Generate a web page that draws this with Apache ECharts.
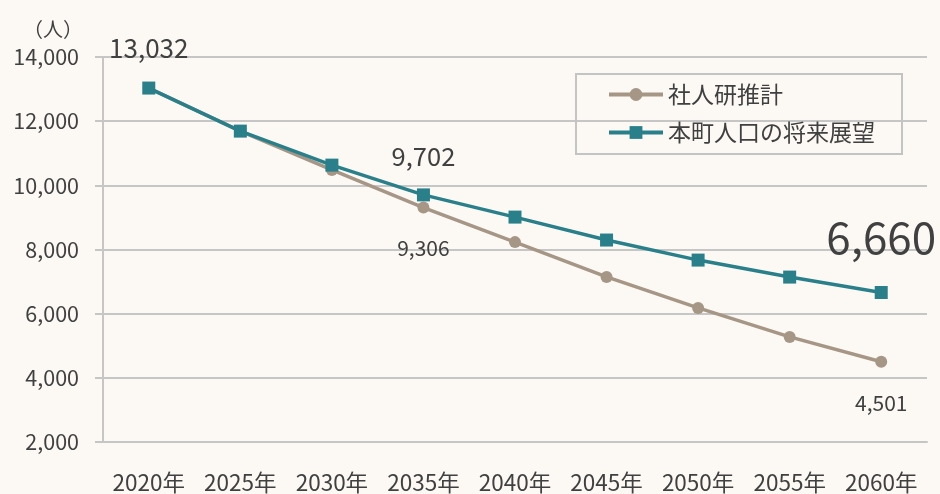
<!DOCTYPE html>
<html><head><meta charset="utf-8">
<script src="https://cdn.jsdelivr.net/npm/echarts@6/dist/echarts.min.js"></script>
<style>html,body{margin:0;padding:0;background:#fcf9f4;}#c{width:940px;height:494px;}</style>
</head><body><div id="c"></div>
<script>
var categories = ['2020年','2025年','2030年','2035年','2040年','2045年','2050年','2055年','2060年'];
var seriesNames = ['社人研推計','本町人口の将来展望'];
var socialValues = [13032, 11690, 10480, 9306, 8230, 7145, 6180, 5275, 4501];
var townValues = [13032, 11690, 10630, 9702, 9010, 8295, 7670, 7140, 6660];
var yTicks = {min: 2000, max: 14000, interval: 2000};

var FONT = '"Noto Sans CJK JP","Noto Sans",sans-serif';
var TXT = '#404040';
var GRAY = '#a69686';
var TEAL = '#2a808a';
var GRID = '#c6c6c6';
function fmt(v){ return v.toString().replace(/\B(?=(\d{3})+(?!\d))/g, ','); }

function lbl(pos, size, dist){
  return {show:true, position:pos, distance:dist, fontSize:size, color:TXT, fontFamily:FONT,
          formatter:function(p){return fmt(p.value);}};
}
var socialData = socialValues.map(function(v,i){
  var d = {value:v};
  if(i===3) d.label = lbl('bottom',21,24);
  if(i===8) d.label = lbl('bottom',21,25);
  return d;
});
var townData = townValues.map(function(v,i){
  var d = {value:v};
  if(i===0) d.label = lbl('top',26,20);
  if(i===3) d.label = lbl('top',25.5,19);
  if(i===8) d.label = lbl('top',44,27);
  return d;
});

var chart = echarts.init(document.getElementById('c'), null, {renderer:'canvas'});
chart.setOption({
  backgroundColor:'#fcf9f4',
  animation:false,
  grid:{left:103, right:13, top:57, bottom:52},
  legend:{
    orient:'vertical', left:576, top:74,
    padding:[9,27,10,31], itemGap:15,
    itemWidth:54, itemHeight:16,
    lineStyle:{width:4},
    borderColor:'#c4c4c4', borderWidth:2,
    textStyle:{fontSize:23, color:TXT, fontFamily:FONT, padding:[0,0,0,0]},
    data:seriesNames
  },
  xAxis:{
    type:'category', data:categories, boundaryGap:true,
    axisLine:{lineStyle:{color:GRID, width:2}},
    axisTick:{alignWithLabel:true, interval:0, length:6, lineStyle:{color:GRID, width:2}},
    axisLabel:{interval:0, fontSize:22.5, color:TXT, fontFamily:FONT, margin:29}
  },
  yAxis:{
    type:'value', min:yTicks.min, max:yTicks.max, interval:yTicks.interval,
    name:'（人）', nameLocation:'end', nameGap:18,
    nameTextStyle:{fontSize:20, color:TXT, fontFamily:FONT, align:'right', padding:[0,20,0,0]},
    axisLine:{show:true, lineStyle:{color:GRID, width:2}},
    axisTick:{show:true, length:8, lineStyle:{color:GRID, width:2}},
    splitLine:{lineStyle:{color:GRID, width:2}},
    axisLabel:{fontSize:21.5, color:TXT, fontFamily:FONT, margin:24, formatter:function(v){return fmt(v);}}
  },
  series:[
    {name:seriesNames[0], type:'line', data:socialData, color:GRAY,
     symbol:'circle', symbolSize:12, lineStyle:{width:3.5, color:GRAY}, itemStyle:{color:GRAY},
     label:{show:false}},
    {name:seriesNames[1], type:'line', data:townData, color:TEAL,
     symbol:'rect', symbolSize:13, lineStyle:{width:3.5, color:TEAL}, itemStyle:{color:TEAL},
     label:{show:false}}
  ]
});
</script></body></html>
